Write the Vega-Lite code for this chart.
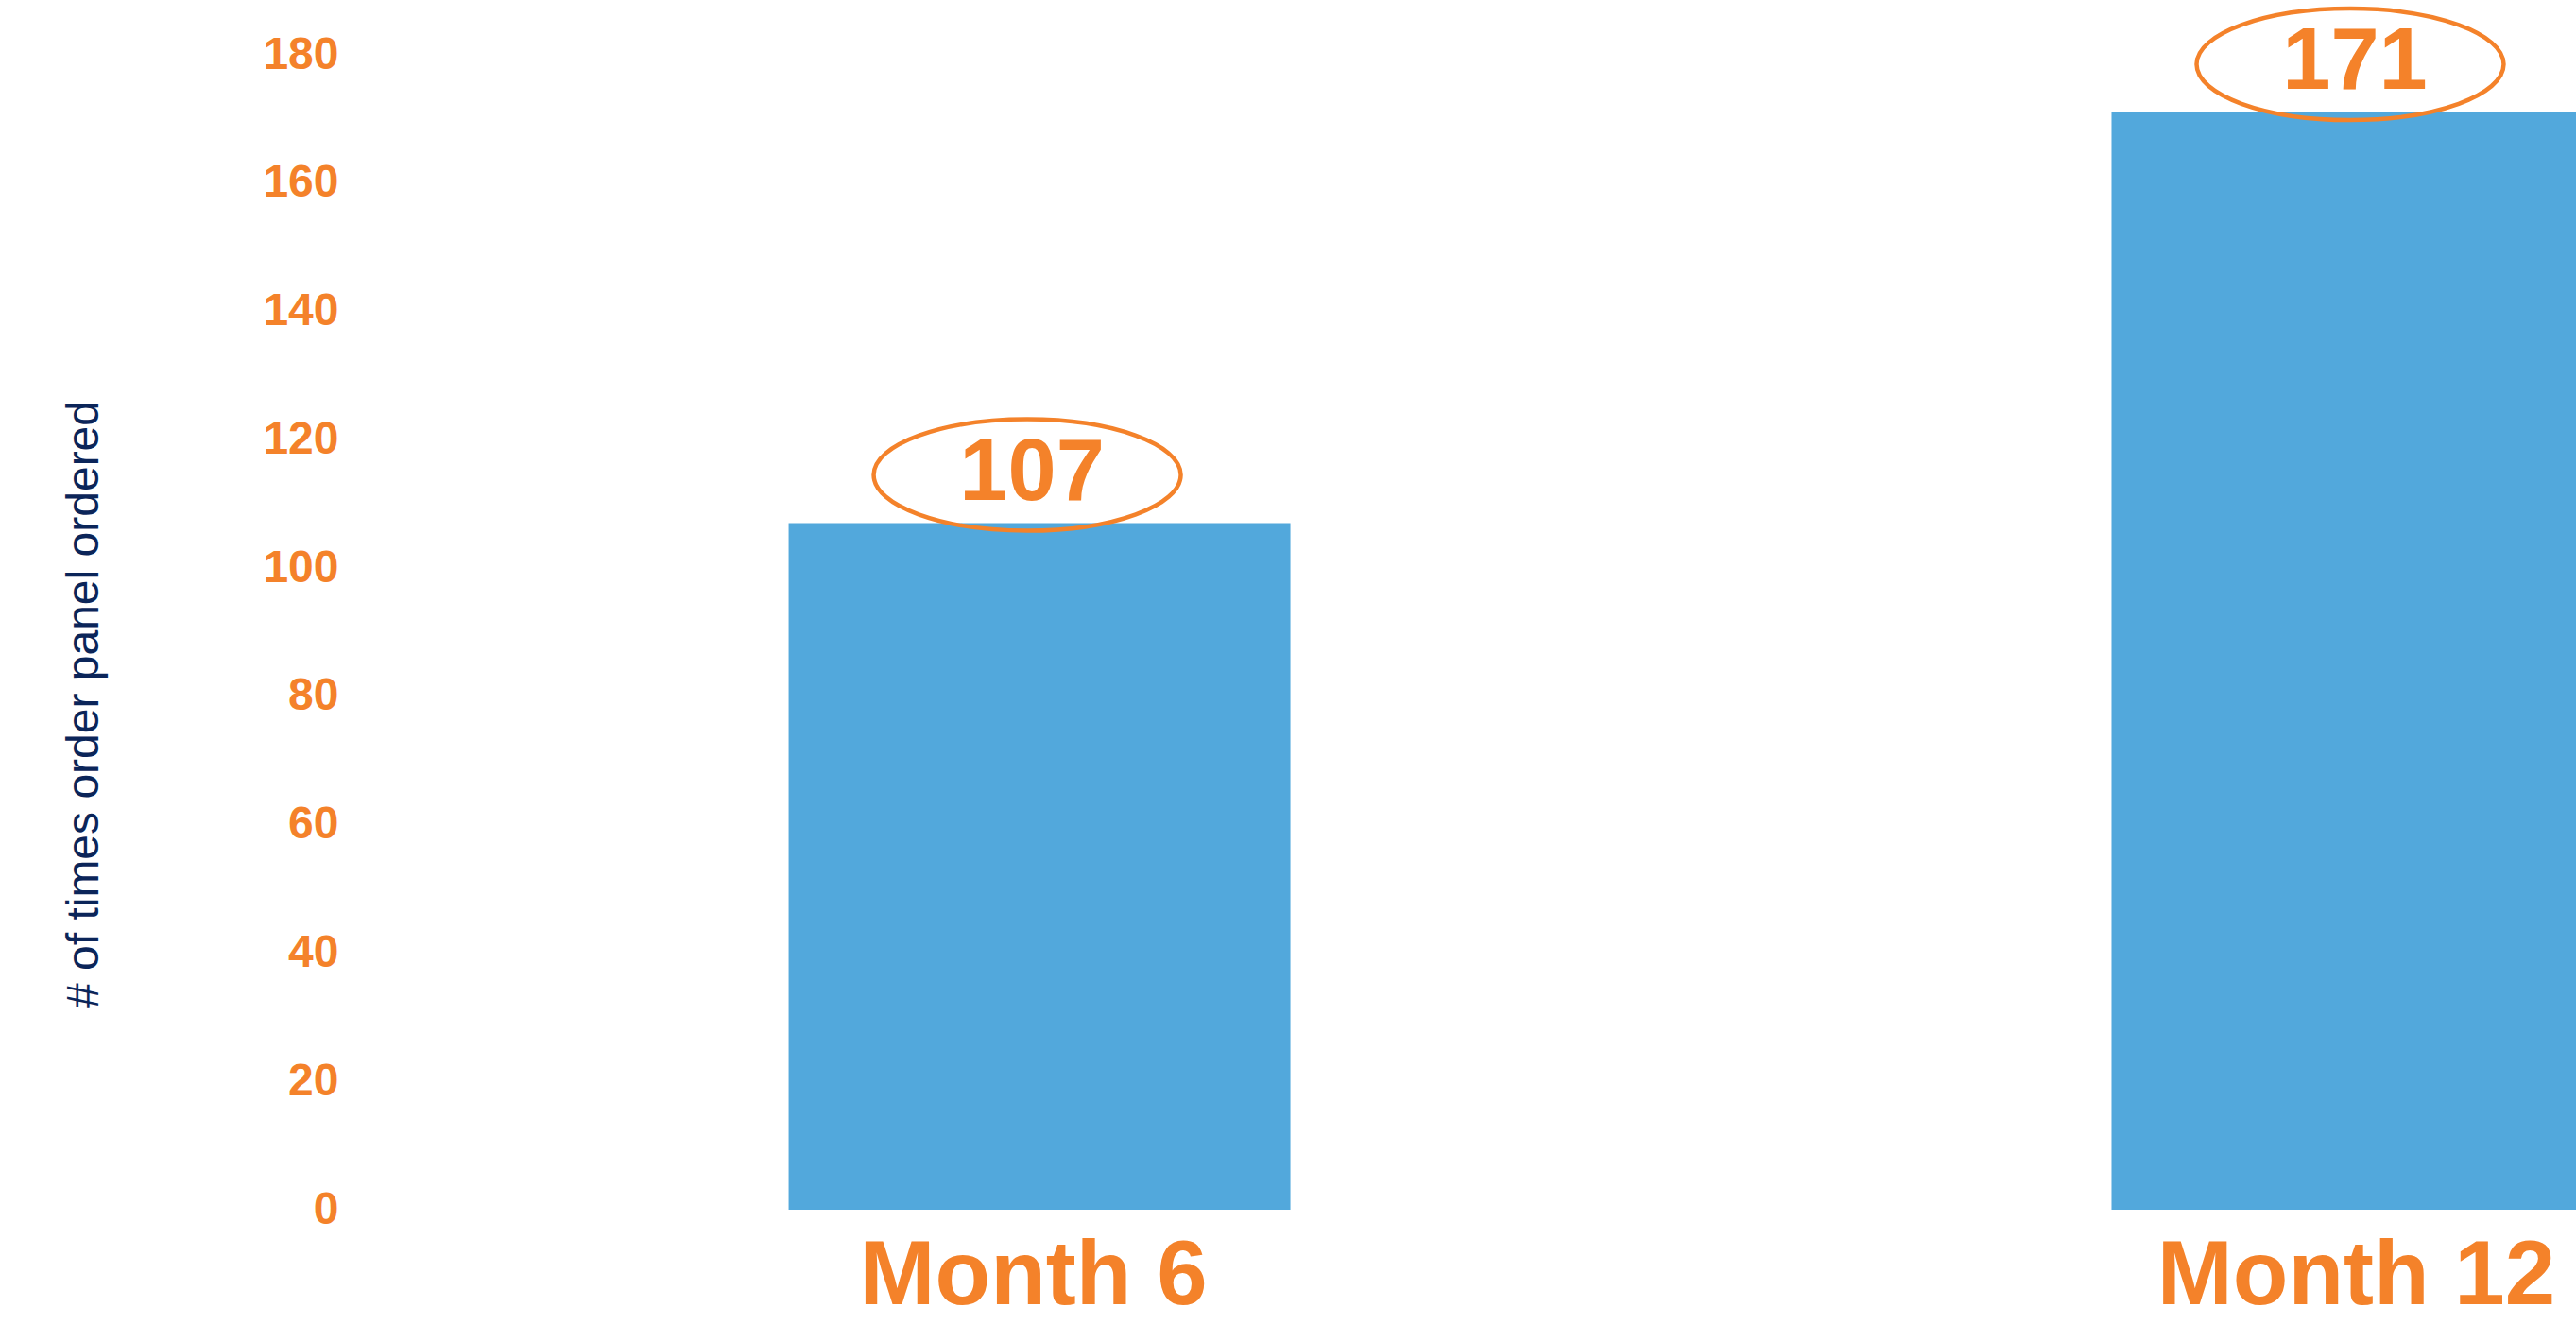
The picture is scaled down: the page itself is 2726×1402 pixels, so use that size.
{
  "$schema": "https://vega.github.io/schema/vega-lite/v6.json",
  "width": 2346,
  "height": 1222,
  "autosize": {"type": "none"},
  "padding": {"left": 380, "top": 58, "right": 0, "bottom": 122},
  "background": "white",
  "config": {"view": {"stroke": null}, "font": "Liberation Sans"},
  "data": {"values": [
    {"period": "Month 6", "count": 107},
    {"period": "Month 12", "count": 171}
  ]},
  "encoding": {
    "x": {
      "field": "period", "type": "nominal", "sort": ["Month 6", "Month 12"],
      "scale": {"type": "point", "padding": 0.3379, "align": 0.7611},
      "axis": {
        "title": null, "domain": false, "ticks": false, "tickSize": 0, "grid": false,
        "labelAngle": 0, "labelFont": "Liberation Sans", "labelFontWeight": "bold",
        "labelFontSize": 96, "labelColor": "#F4822A", "labelPadding": 99,
        "labelOffset": -7,
        "labelBaseline": "alphabetic", "labelOverlap": false, "labelLimit": 2000
      }
    },
    "y": {
      "field": "count", "type": "quantitative",
      "scale": {"domain": [0, 180], "nice": false},
      "axis": {
        "values": [0, 20, 40, 60, 80, 100, 120, 140, 160, 180],
        "domain": false, "ticks": false, "tickSize": 0, "grid": false,
        "labelFont": "Liberation Sans", "labelFontWeight": "bold", "labelFontSize": 48,
        "labelColor": "#F4822A", "labelPadding": 22, "labelBaseline": "middle",
        "labelOverlap": false, "labelFlush": false,
        "title": "# of times order panel ordered",
        "titleFont": "Liberation Sans", "titleFontWeight": "normal", "titleFontSize": 48,
        "titleColor": "#0B2559", "titleX": -277, "titleY": 687, "titleAngle": 270,
        "titleBaseline": "alphabetic", "titleAlign": "center", "titleLimit": 2000
      }
    }
  },
  "layer": [
    {"mark": {"type": "bar", "width": 531, "fill": "#52a8dc"}},
    {"mark": {
      "type": "point",
      "shape": "M -1 0 C -1 -0.2005 -0.5523 -0.363 0 -0.363 C 0.5523 -0.363 1 -0.2005 1 0 C 1 0.2005 0.5523 0.363 0 0.363 C -0.5523 0.363 -1 0.2005 -1 0 Z",
      "size": 105625, "filled": false, "stroke": "#F4822A", "strokeWidth": 4.5,
      "opacity": 1, "xOffset": -13, "yOffset": -51
    }},
    {"mark": {
      "type": "text", "font": "Liberation Sans", "fontWeight": "bold", "fontSize": 92,
      "color": "#F4822A", "align": "center", "baseline": "middle",
      "xOffset": -8, "yOffset": -53
    }, "encoding": {"text": {"field": "count", "type": "quantitative"}}}
  ]
}
